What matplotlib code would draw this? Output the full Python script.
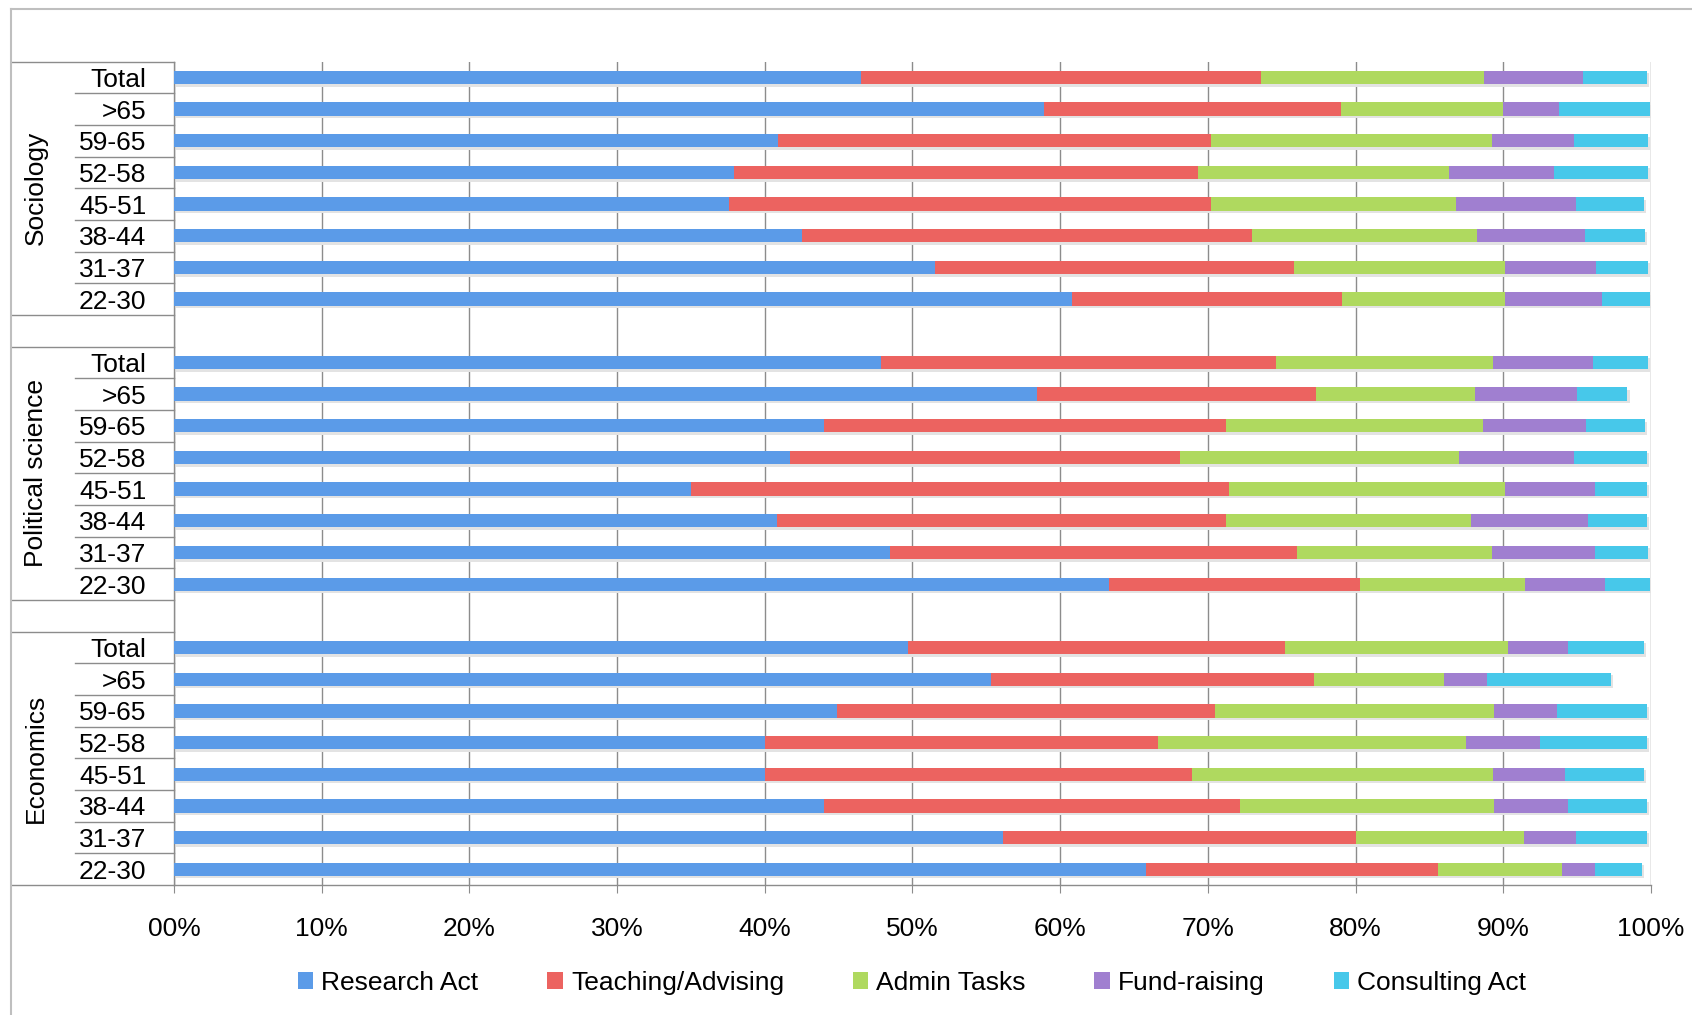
import matplotlib.pyplot as plt
import matplotlib.transforms as mtransforms
from matplotlib.lines import Line2D
import numpy as np

groups = ["Sociology", "Political science", "Economics"]
ages = ["Total", ">65", "59-65", "52-58", "45-51", "38-44", "31-37", "22-30"]
activities = ["Research Act", "Teaching/Advising", "Admin Tasks", "Fund-raising", "Consulting Act"]
colors = ["#5b9be8", "#ec6360", "#afd95f", "#a07fd0", "#47c8ea"]
tick_labels = ["00%", "10%", "20%", "30%", "40%", "50%", "60%", "70%", "80%", "90%", "100%"]

# shares in %, rows per group: Total, >65, 59-65, 52-58, 45-51, 38-44, 31-37, 22-30
# groups in order Sociology, Political science, Economics
research = [46.5, 58.9, 40.9, 37.9, 37.6, 42.5, 51.5, 60.8,
            47.9, 58.4, 44.0, 41.7, 35.0, 40.8, 48.5, 63.3,
            49.7, 55.3, 44.9, 40.0, 40.0, 44.0, 56.1, 65.8]
teaching = [27.1, 20.1, 29.3, 31.4, 32.6, 30.5, 24.3, 18.3,
            26.7, 18.9, 27.2, 26.4, 36.4, 30.4, 27.5, 17.0,
            25.5, 21.9, 25.6, 26.6, 28.9, 28.2, 23.9, 19.8]
admin = [15.1, 11.0, 19.0, 17.0, 16.6, 15.2, 14.3, 11.0,
         14.7, 10.8, 17.4, 18.9, 18.7, 16.6, 13.2, 11.2,
         15.1, 8.8, 18.9, 20.9, 20.4, 17.2, 11.4, 8.4]
fundraising = [6.7, 3.8, 5.6, 7.1, 8.1, 7.3, 6.2, 6.6,
               6.8, 6.9, 7.0, 7.8, 6.1, 7.9, 7.0, 5.4,
               4.1, 2.9, 4.2, 5.0, 4.9, 5.0, 3.5, 2.2]
consulting = [4.3, 6.1, 5.0, 6.4, 4.6, 4.1, 3.5, 3.2,
              3.7, 3.4, 4.0, 4.9, 3.5, 4.0, 3.6, 3.0,
              5.1, 8.4, 6.1, 7.2, 5.3, 5.3, 4.8, 3.2]

plt.rcParams['font.family'] = ['Liberation Sans Narrow', 'Liberation Sans', 'DejaVu Sans']

fig = plt.figure(figsize=(16.92, 10.15), dpi=100)
ax = fig.add_axes([0.1028, 0.128, 0.8730, 0.8114])

# slot position of each row: 8 rows per group, one empty slot between groups
ypos = np.array([g * 9 + r for g in range(len(groups)) for r in range(len(ages))])
series = [np.array(s) for s in (research, teaching, admin, fundraising, consulting)]
bar_h = 0.42

# soft shadow under bars
total = sum(series)
ax.barh(ypos + 0.08, total, left=0.15, height=bar_h, color="#e3e3e3", zorder=1)

left = np.zeros(len(ypos))
for vals, name, col in zip(series, activities, colors):
    ax.barh(ypos, vals, left=left, height=bar_h, color=col, label=name, zorder=3)
    left += vals

ax.set_xlim(0, 100)
ax.set_ylim(25.5, -0.5)
ax.set_xticks(np.arange(0, 101, 10))
ax.set_xticklabels(tick_labels, fontsize=19)
ax.set_yticks(ypos)
ax.set_yticklabels(ages * len(groups), fontsize=19)
ax.tick_params(axis='y', length=0, pad=20)
ax.tick_params(axis='x', length=6, color="#8c8c8c", pad=17)
ax.grid(axis='x', color="#8c8c8c", lw=1, zorder=0)
ax.set_axisbelow(True)
for s in ['top', 'right']:
    ax.spines[s].set_visible(False)
for s in ['left', 'bottom']:
    ax.spines[s].set_color("#8c8c8c")
    ax.spines[s].set_linewidth(1)

# table lines in the label area
trans = mtransforms.blended_transform_factory(ax.transAxes, ax.transData)
for g in range(len(groups)):
    top = g * 9 - 0.5
    bot = g * 9 + 7.5
    for y in (top, bot):
        ax.plot([-0.1105, 0], [y, y], color="#8c8c8c", lw=1, transform=trans, clip_on=False)
    for r in range(7):
        y = g * 9 + r + 0.5
        ax.plot([-0.0667, 0], [y, y], color="#8c8c8c", lw=1, transform=trans, clip_on=False)
    ax.text(-0.0937, g * 9 + 3.5, groups[g], rotation=90, ha='center', va='center',
            fontsize=19, transform=trans)

# outer frame of the chart
fig.add_artist(Line2D([11 / 1692, 1], [1 - 9 / 1015, 1 - 9 / 1015], color="#bfbfbf", lw=1.5))
fig.add_artist(Line2D([11 / 1692, 11 / 1692], [0, 1 - 9 / 1015], color="#bfbfbf", lw=1.5))

fig.legend(loc='center', bbox_to_anchor=(0.539, 0.032), ncol=5, frameon=False,
           fontsize=19, handlelength=0.6, handleheight=0.6, handletextpad=0.3,
           columnspacing=2.6)

fig.savefig("out.png", dpi=100)
